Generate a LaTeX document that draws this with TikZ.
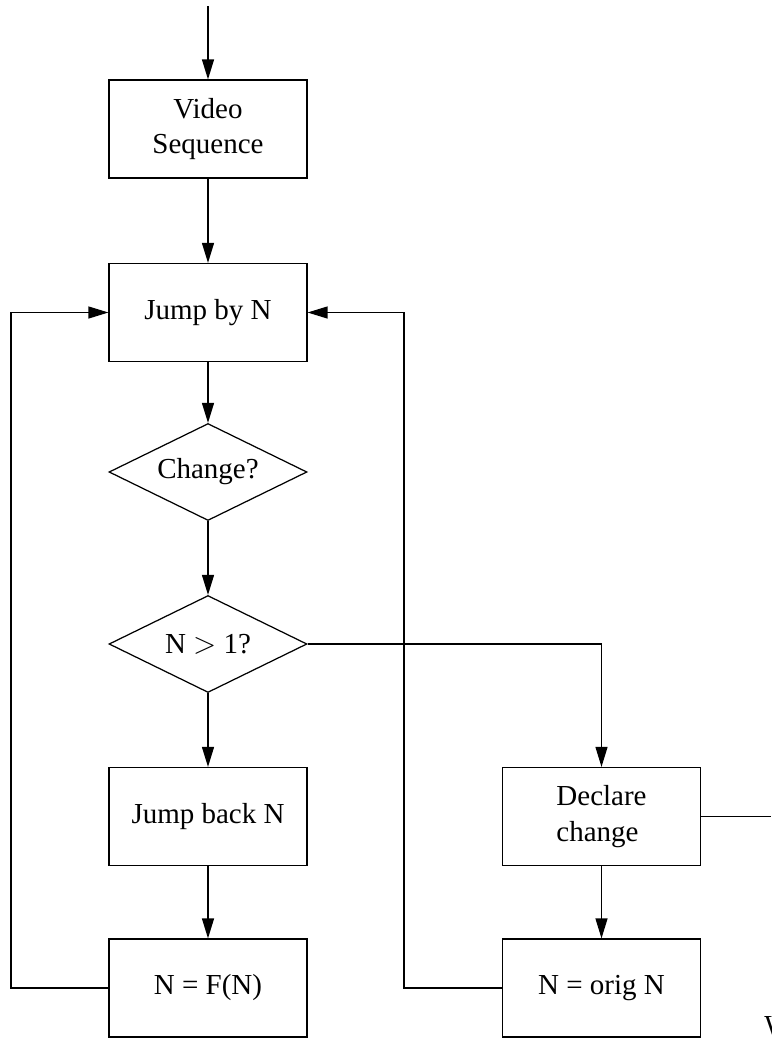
\documentclass[tikz,border=0pt]{standalone}
\usepackage{fontspec}
\setmainfont{Liberation Serif}
\usetikzlibrary{arrows.meta,shapes.geometric}

\begin{document}
\begin{tikzpicture}[
    x=0.02cm, y=-0.02cm,
    box/.style={draw, line width=0.7pt, minimum width=3.96cm, minimum height=1.96cm, inner sep=0pt, align=center},
    test/.style={draw, diamond, aspect=2, line width=0.7pt, minimum width=3.96cm, minimum height=1.94cm, inner sep=0pt},
    arr/.style={line width=0.7pt, -{Triangle[length=0.4cm, width=0.24cm]}},
    ln/.style={line width=0.7pt},
    font=\fontsize{16.5}{20}\selectfont,
  ]
    \useasboundingbox (0,0) rectangle (771,1038);

    % main column
    \coordinate (start) at (208,6);
    \node[box] (video) at (208,129) {Video\\Sequence};
    \node[box] (jump) at (208,312.5) {Jump by N};
    \node[test] (change) at (208,472) {Change?};
    \node[test] (bigger) at (208,644) {N $>$ 1?};
    \node[box] (back) at (208,816.5) {Jump back N};
    \node[box] (fofn) at (208,988) {N = F(N)};

    % right column
    \node[box, align=left] (declare) at (601.5,816.5) {Declare\\change};
    \node[box] (orig) at (601.5,988) {N = orig N};
    \coordinate (out) at (771,816.5);
    \coordinate (left) at (11,988);
    \coordinate (mid) at (404,988);

    % cut-off text at the corner
    \node[anchor=north west, inner sep=0pt] (cut) at (764,1016) {W};

    % connectors
    \draw[arr] (start) -- (video);
    \draw[arr] (video) -- (jump);
    \draw[arr] (jump) -- (change);
    \draw[arr] (change) -- (bigger);
    \draw[arr] (bigger) -- (back);
    \draw[arr] (back) -- (fofn);
    \draw[arr] (bigger.east) -| (declare.north);
    \draw[arr] (declare) -- (orig);
    \draw[ln] (declare.east) -- (out);
    \draw[arr] (fofn.west) -- (left) |- (jump.west);
    \draw[arr] (orig.west) -- (mid) |- (jump.east);
  \end{tikzpicture}
\end{document}
